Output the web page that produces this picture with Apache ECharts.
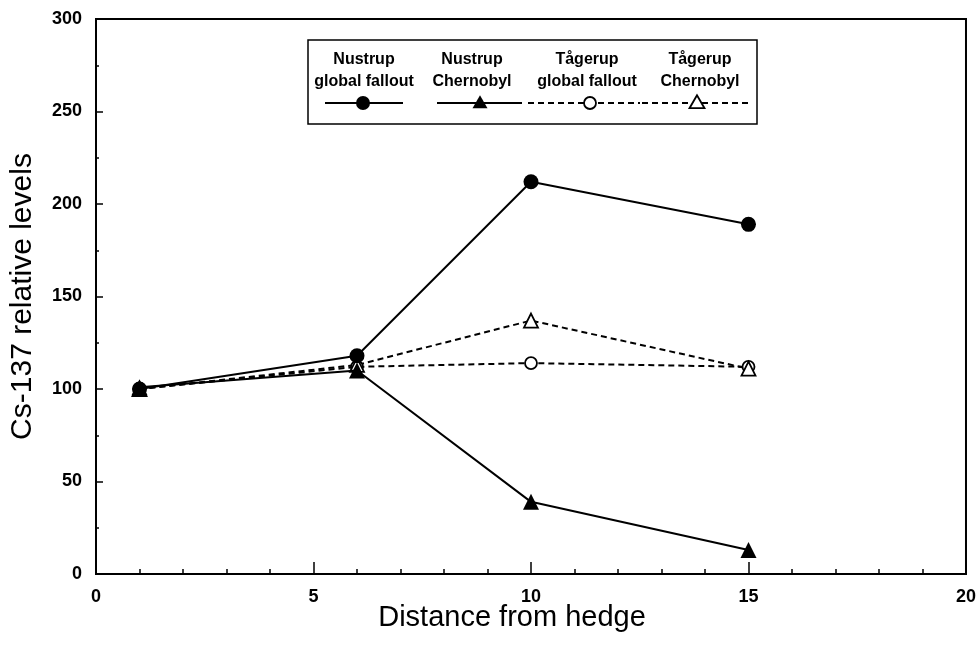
<!DOCTYPE html>
<html>
<head>
<meta charset="utf-8">
<script src="https://cdn.jsdelivr.net/npm/echarts@6/dist/echarts.min.js"></script>
<style>
html,body{margin:0;padding:0;background:#fff;}
#chart{width:979px;height:649px;}
</style>
</head>
<body>
<div id="chart"></div>
<script>
// ---- data ----
const xValues = [1, 6, 10, 15];
const nustrupGlobal = [100, 118, 212, 189];
const nustrupChernobyl = [101, 110, 39, 13];
const tagerupGlobal = [100, 112, 114, 112];
const tagerupChernobyl = [100, 113, 137, 111];
const seriesNames = ['Nustrup\nglobal fallout', 'Nustrup\nChernobyl', 'Tågerup\nglobal fallout', 'Tågerup\nChernobyl'];
const xTitle = 'Distance from hedge';
const yTitle = 'Cs-137 relative levels';

const pairs = arr => arr.map((v, i) => [xValues[i], v]);
const FONT = 'Liberation Sans, Arial, Helvetica, sans-serif';

const seriesDefs = [
  { name: seriesNames[2], data: tagerupGlobal, symbol: 'circle', filled: false, dashed: true, size: 12 },
  { name: seriesNames[3], data: tagerupChernobyl, symbol: 'triangle', filled: false, dashed: true, size: 14 },
  { name: seriesNames[0], data: nustrupGlobal, symbol: 'circle', filled: true, dashed: false, size: 15 },
  { name: seriesNames[1], data: nustrupChernobyl, symbol: 'triangle', filled: true, dashed: false, size: 16 }
];

const series = seriesDefs.map(d => ({
  type: 'line',
  name: d.name,
  data: pairs(d.data),
  symbol: d.symbol,
  symbolSize: d.size,
  showAllSymbol: true,
  lineStyle: { color: '#000', width: 2, type: d.dashed ? [6, 4] : 'solid' },
  itemStyle: { color: d.filled ? '#000' : '#fff', borderColor: '#000', borderWidth: d.filled ? 0 : 1.8 },
  z: d.filled ? 3 : 2,
  animation: false
}));

// ---- legend drawn as graphic (text above symbol) ----
const legendBox = { x: 308, y: 40, w: 449, h: 84 };
const legendCols = [
  { cx: 364, x1: 325, x2: 403, mx: 363, def: seriesDefs[2] },
  { cx: 472, x1: 437, x2: 522, mx: 480, def: seriesDefs[3] },
  { cx: 587, x1: 528, x2: 640, mx: 590, def: seriesDefs[0] },
  { cx: 700, x1: 642, x2: 752, mx: 697, def: seriesDefs[1] }
];
const graphics = [{
  type: 'rect', shape: { x: legendBox.x, y: legendBox.y, width: legendBox.w, height: legendBox.h },
  style: { fill: '#fff', stroke: '#000', lineWidth: 1.5 }, z: 10
}];
legendCols.forEach(c => {
  const lines = c.def.name.split('\n');
  graphics.push({ type: 'text', x: c.cx, y: 60, z: 11,
    style: { text: lines[0], font: 'bold 16px ' + FONT, fill: '#000', textAlign: 'center', textVerticalAlign: 'middle' } });
  graphics.push({ type: 'text', x: c.cx, y: 82, z: 11,
    style: { text: lines[1], font: 'bold 16px ' + FONT, fill: '#000', textAlign: 'center', textVerticalAlign: 'middle' } });
  const sy = 103;
  graphics.push({ type: 'line', z: 11, shape: { x1: c.x1, y1: sy, x2: c.x2, y2: sy },
    style: { stroke: '#000', lineWidth: 2, lineDash: c.def.dashed ? [6, 4] : null } });
  const fill = c.def.filled ? '#000' : '#fff';
  if (c.def.symbol === 'circle') {
    graphics.push({ type: 'circle', z: 12, shape: { cx: c.mx, cy: sy, r: c.def.filled ? 7 : 6 },
      style: { fill: fill, stroke: '#000', lineWidth: c.def.filled ? 0 : 1.8 } });
  } else {
    const h = 13, w = 15;
    graphics.push({ type: 'polygon', z: 12,
      shape: { points: [[c.mx, sy - h * 0.6], [c.mx - w / 2, sy + h * 0.4], [c.mx + w / 2, sy + h * 0.4]] },
      style: { fill: fill, stroke: '#000', lineWidth: c.def.filled ? 0 : 1.8 } });
  }
});

const chart = echarts.init(document.getElementById('chart'), null, { renderer: 'canvas' });
chart.setOption({
  backgroundColor: '#fff',
  animation: false,
  grid: { left: 96, right: 12, top: 19, bottom: 75, show: true, borderColor: '#000', borderWidth: 2, backgroundColor: 'transparent' },
  xAxis: {
    type: 'value', min: 0, max: 20, interval: 5,
    name: xTitle, nameLocation: 'middle', nameGap: 29, nameMoveOverlap: false,
    nameTextStyle: { fontFamily: FONT, fontSize: 29, color: '#000', padding: [0, 38, 0, 0] },
    axisLine: { show: true, lineStyle: { color: '#000', width: 2 } },
    axisTick: { show: true, inside: true, length: 12, lineStyle: { color: '#000', width: 1.5 } },
    minorTick: { show: true, splitNumber: 5, length: 5, lineStyle: { color: '#000', width: 1.5 } },
    axisLabel: { fontFamily: FONT, fontWeight: 'bold', fontSize: 18, color: '#000', margin: 14 },
    splitLine: { show: false }
  },
  yAxis: {
    type: 'value', min: 0, max: 300, interval: 50,
    name: yTitle, nameLocation: 'middle', nameGap: 58,
    nameTextStyle: { fontFamily: FONT, fontSize: 30, color: '#000' },
    axisLine: { show: true, lineStyle: { color: '#000', width: 2 } },
    axisTick: { show: true, inside: true, length: 7, lineStyle: { color: '#000', width: 1.5 } },
    minorTick: { show: true, splitNumber: 2, length: 3, lineStyle: { color: '#000', width: 1.5 } },
    axisLabel: { fontFamily: FONT, fontWeight: 'bold', fontSize: 18, color: '#000', margin: 14 },
    splitLine: { show: false }
  },
  graphic: graphics,
  series: series
});
</script>
</body>
</html>
